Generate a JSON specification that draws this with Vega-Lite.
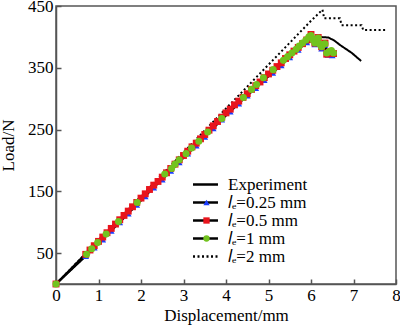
{
  "$schema": "https://vega.github.io/schema/vega-lite/v6.json",
  "width": 340,
  "height": 278,
  "autosize": "none",
  "padding": {"left": 56, "top": 6, "right": 4, "bottom": 45},
  "background": "white",
  "config": {
    "font": "Liberation Serif",
    "view": {"stroke": "#555", "strokeWidth": 1.5},
    "axis": {
      "domainColor": "#555", "domainWidth": 1.5, "tickColor": "#555", "tickWidth": 1.5,
      "tickSize": -5, "labelFont": "Liberation Serif", "labelFontSize": 17, "labelColor": "black", "labelFlush": false,
      "titleFont": "Liberation Serif", "titleFontSize": 17, "titleFontWeight": "normal", "titleColor": "black",
      "grid": false
    },
    "legend": {"padding": 0, "labelFont": "Liberation Serif", "labelFontSize": 17, "labelColor": "black", "rowPadding": 0}
  },
  "data": {"values": [
    {"s":"Experiment","x":0,"y":0},{"s":"Experiment","x":1,"y":70},{"s":"Experiment","x":2,"y":140},{"s":"Experiment","x":3,"y":209},{"s":"Experiment","x":4,"y":278},{"s":"Experiment","x":5,"y":341},{"s":"Experiment","x":5.5,"y":372},{"s":"Experiment","x":6.0,"y":400},{"s":"Experiment","x":6.17,"y":400},{"s":"Experiment","x":6.41,"y":399},{"s":"Experiment","x":6.55,"y":394},{"s":"Experiment","x":6.68,"y":387},{"s":"Experiment","x":6.96,"y":374},{"s":"Experiment","x":7.18,"y":361},
    {"s":"2","x":0,"y":0},{"s":"2","x":1,"y":71},{"s":"2","x":2,"y":142},{"s":"2","x":3,"y":213},{"s":"2","x":4,"y":284},{"s":"2","x":5,"y":355},{"s":"2","x":6,"y":426},{"s":"2","x":6.27,"y":444},{"s":"2","x":6.31,"y":430},{"s":"2","x":6.68,"y":430},{"s":"2","x":6.72,"y":419},{"s":"2","x":7.19,"y":419},{"s":"2","x":7.23,"y":411},{"s":"2","x":7.78,"y":411},
    {"s":"0.25","x":0,"y":0},{"s":"0.25","x":0.7,"y":45},{"s":"0.25","x":0.9,"y":59},{"s":"0.25","x":1.1,"y":72},{"s":"0.25","x":1.3,"y":86},{"s":"0.25","x":1.5,"y":100},{"s":"0.25","x":1.7,"y":114},{"s":"0.25","x":1.9,"y":128},{"s":"0.25","x":2.1,"y":142},{"s":"0.25","x":2.3,"y":156},{"s":"0.25","x":2.5,"y":169},{"s":"0.25","x":2.7,"y":183},{"s":"0.25","x":2.9,"y":197},{"s":"0.25","x":3.1,"y":211},{"s":"0.25","x":3.3,"y":224},{"s":"0.25","x":3.5,"y":238},{"s":"0.25","x":3.7,"y":252},{"s":"0.25","x":3.9,"y":266},{"s":"0.25","x":4.1,"y":279},{"s":"0.25","x":4.3,"y":292},{"s":"0.25","x":4.5,"y":305},{"s":"0.25","x":4.7,"y":317},{"s":"0.25","x":4.9,"y":330},{"s":"0.25","x":5.1,"y":342},{"s":"0.25","x":5.3,"y":354},{"s":"0.25","x":5.5,"y":367},{"s":"0.25","x":5.7,"y":379},{"s":"0.25","x":5.9,"y":391},{"s":"0.25","x":6.0,"y":399},{"s":"0.25","x":6.09,"y":388},{"s":"0.25","x":6.17,"y":396},{"s":"0.25","x":6.25,"y":381},{"s":"0.25","x":6.33,"y":387},{"s":"0.25","x":6.4,"y":371},{"s":"0.25","x":6.5,"y":370},
    {"s":"0.5","x":0,"y":0},{"s":"0.5","x":0.7,"y":48},{"s":"0.5","x":0.8,"y":55},{"s":"0.5","x":0.9,"y":62},{"s":"0.5","x":1.0,"y":69},{"s":"0.5","x":1.1,"y":76},{"s":"0.5","x":1.2,"y":83},{"s":"0.5","x":1.3,"y":90},{"s":"0.5","x":1.4,"y":97},{"s":"0.5","x":1.5,"y":104},{"s":"0.5","x":1.6,"y":111},{"s":"0.5","x":1.7,"y":118},{"s":"0.5","x":1.8,"y":125},{"s":"0.5","x":1.9,"y":132},{"s":"0.5","x":2.0,"y":139},{"s":"0.5","x":2.1,"y":146},{"s":"0.5","x":2.2,"y":153},{"s":"0.5","x":2.3,"y":160},{"s":"0.5","x":2.4,"y":166},{"s":"0.5","x":2.5,"y":173},{"s":"0.5","x":2.6,"y":180},{"s":"0.5","x":2.7,"y":187},{"s":"0.5","x":2.8,"y":194},{"s":"0.5","x":2.9,"y":201},{"s":"0.5","x":3.0,"y":208},{"s":"0.5","x":3.1,"y":215},{"s":"0.5","x":3.2,"y":222},{"s":"0.5","x":3.3,"y":228},{"s":"0.5","x":3.4,"y":235},{"s":"0.5","x":3.5,"y":242},{"s":"0.5","x":3.6,"y":249},{"s":"0.5","x":3.7,"y":256},{"s":"0.5","x":3.8,"y":263},{"s":"0.5","x":3.9,"y":270},{"s":"0.5","x":4.0,"y":277},{"s":"0.5","x":4.1,"y":283},{"s":"0.5","x":4.2,"y":290},{"s":"0.5","x":4.3,"y":296},{"s":"0.5","x":4.4,"y":302},{"s":"0.5","x":4.5,"y":308},{"s":"0.5","x":4.6,"y":315},{"s":"0.5","x":4.7,"y":321},{"s":"0.5","x":4.8,"y":327},{"s":"0.5","x":4.9,"y":334},{"s":"0.5","x":5.0,"y":340},{"s":"0.5","x":5.1,"y":346},{"s":"0.5","x":5.2,"y":352},{"s":"0.5","x":5.3,"y":358},{"s":"0.5","x":5.4,"y":365},{"s":"0.5","x":5.5,"y":371},{"s":"0.5","x":5.6,"y":377},{"s":"0.5","x":5.7,"y":383},{"s":"0.5","x":5.8,"y":389},{"s":"0.5","x":5.9,"y":395},{"s":"0.5","x":6.0,"y":404},{"s":"0.5","x":6.05,"y":396},{"s":"0.5","x":6.09,"y":390},{"s":"0.5","x":6.17,"y":399},{"s":"0.5","x":6.25,"y":384},{"s":"0.5","x":6.33,"y":390},{"s":"0.5","x":6.37,"y":372},{"s":"0.5","x":6.45,"y":376},{"s":"0.5","x":6.53,"y":373},
    {"s":"1","x":0,"y":0},{"s":"1","x":0.72,"y":48},{"s":"1","x":0.84,"y":57},{"s":"1","x":0.98,"y":67},{"s":"1","x":1.18,"y":81},{"s":"1","x":1.47,"y":101},{"s":"1","x":1.91,"y":132},{"s":"1","x":2.56,"y":178},{"s":"1","x":2.72,"y":187},{"s":"1","x":2.8,"y":194},{"s":"1","x":2.9,"y":201},{"s":"1","x":3.06,"y":211},{"s":"1","x":3.19,"y":220},{"s":"1","x":3.36,"y":231},{"s":"1","x":3.57,"y":246},{"s":"1","x":3.9,"y":268},{"s":"1","x":4.41,"y":302},{"s":"1","x":4.6,"y":315},{"s":"1","x":4.72,"y":323},{"s":"1","x":4.88,"y":334},{"s":"1","x":5.11,"y":347},{"s":"1","x":5.35,"y":362},{"s":"1","x":5.45,"y":368},{"s":"1","x":5.55,"y":374},{"s":"1","x":5.65,"y":380},{"s":"1","x":5.72,"y":385},{"s":"1","x":5.8,"y":390},{"s":"1","x":5.88,"y":395},{"s":"1","x":5.95,"y":400},{"s":"1","x":6.0,"y":402},{"s":"1","x":6.05,"y":395},{"s":"1","x":6.09,"y":390},{"s":"1","x":6.13,"y":397},{"s":"1","x":6.17,"y":398},{"s":"1","x":6.21,"y":388},{"s":"1","x":6.25,"y":384},{"s":"1","x":6.29,"y":388},{"s":"1","x":6.33,"y":389},{"s":"1","x":6.37,"y":374},{"s":"1","x":6.42,"y":376},{"s":"1","x":6.48,"y":378},{"s":"1","x":6.53,"y":374}
  ]},
  "encoding": {
    "x": {"field": "x", "type": "quantitative", "scale": {"domain": [0, 8]},
      "axis": {"title": "Displacement/mm", "values": [0,1,2,3,4,5,6,7,8], "labelPadding": 8, "titlePadding": 4}},
    "y": {"field": "y", "type": "quantitative", "scale": {"domain": [0, 450]},
      "axis": {"title": "Load/N", "values": [50,150,250,350,450], "labelPadding": 8, "titlePadding": 10}}
  },
  "layer": [
    {
      "mark": {"type": "line", "color": "black", "strokeWidth": 2},
      "encoding": {
        "strokeDash": {"field": "s", "type": "nominal",
          "scale": {"domain": ["Experiment","0.25","0.5","1","2","_"], "range": [[1,0],[1,0],[1,0],[1,0],[2,2.5],[1,0]]},
          "legend": {"title": null, "values": ["Experiment","0.25","0.5","1","2"], "orient": "none", "legendX": 141, "legendY": 170,
            "symbolType": "M-2,0H2", "symbolSize": 156, "symbolStrokeColor": "black", "symbolStrokeWidth": 2.5, "labelOffset": 14,
            "labelExpr": "datum.label == 'Experiment' ? 'Experiment' : '𝑙ₑ=' + datum.label + ' mm'"}}
      }
    },
    {
      "transform": [{"filter": "datum.s == '0.25' || datum.s == '0.5' || datum.s == '1'"}],
      "mark": {"type": "point", "filled": true, "opacity": 1},
      "encoding": {
        "size": {"field": "s", "type": "nominal", "scale": {"domain": ["0.25","0.5","1"], "range": [45, 50, 60]}, "legend": null},
        "shape": {"field": "s", "type": "nominal",
          "scale": {"domain": ["Experiment","0.25","0.5","1","2"], "range": ["circle","triangle-up","square","circle","circle"]},
          "legend": {"title": null, "orient": "none", "legendX": 142, "legendY": 170, "symbolSize": 40, "symbolStrokeWidth": 0,
            "labelColor": "transparent", "labelOffset": 8,
            "labelExpr": "datum.label == 'Experiment' ? 'Experiment' : '𝑙ₑ=' + datum.label + ' mm'"}},
        "fill": {"field": "s", "type": "nominal",
          "scale": {"domain": ["Experiment","0.25","0.5","1","2"], "range": ["transparent","#1a3cff","#e8141c","#72c31e","transparent"]},
          "legend": {"title": null, "orient": "none", "legendX": 142, "legendY": 170, "symbolSize": 40, "symbolStrokeWidth": 0,
            "labelColor": "transparent", "labelOffset": 8,
            "labelExpr": "datum.label == 'Experiment' ? 'Experiment' : '𝑙ₑ=' + datum.label + ' mm'"}}
      }
    }
  ]
}
